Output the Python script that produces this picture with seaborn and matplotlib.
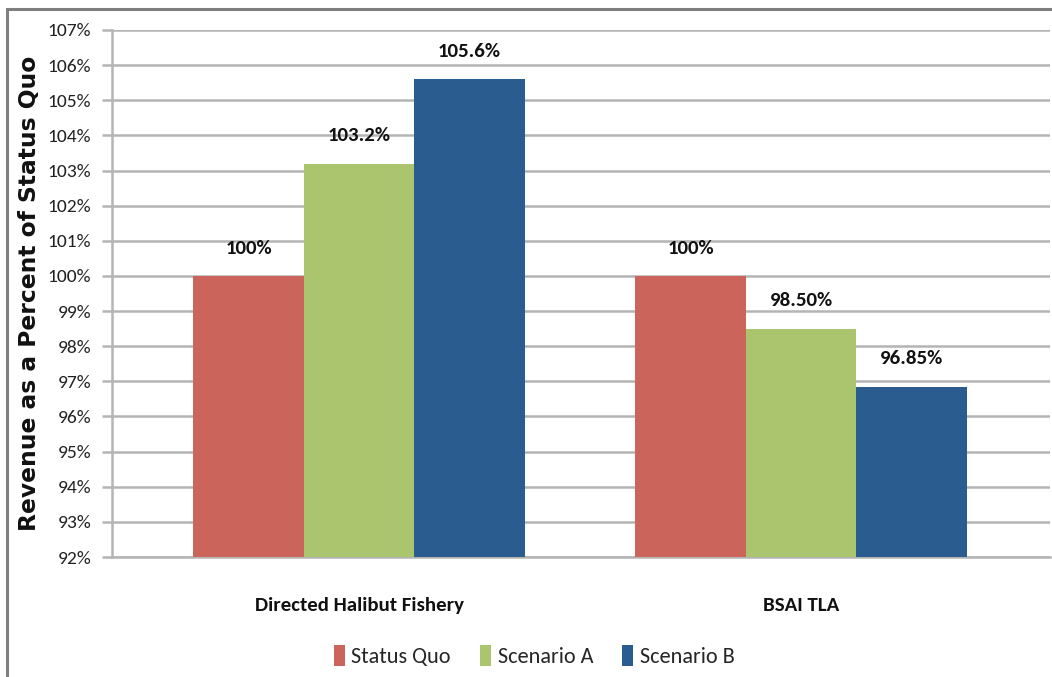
import matplotlib
matplotlib.use("Agg")
import matplotlib.pyplot as plt
import seaborn as sns
import pandas as pd
from matplotlib.patches import Rectangle
from matplotlib import font_manager

categories = ["Directed Halibut Fishery", "BSAI TLA"]
series = ["Status Quo", "Scenario A", "Scenario B"]
status_quo = [100.0, 100.0]
scenario_a = [103.2, 98.5]
scenario_b = [105.6, 96.85]
value_labels = [["100%", "100%"], ["103.2%", "98.50%"], ["105.6%", "96.85%"]]
y_ticks = list(range(92, 108))
colors = ["#CB645B", "#ABC46E", "#2A5C8F"]

names = {f.name for f in font_manager.fontManager.ttflist}
narrow = "DejaVu Sans"
for cand in ["Carlito", "Liberation Sans Narrow", "Archivo Narrow", "PT Sans Narrow",
             "Roboto Condensed", "Open Sans Condensed", "Asap Condensed"]:
    if cand in names:
        narrow = cand
        break

sns.set_theme(style="white")
plt.rcParams["font.family"] = [narrow, "DejaVu Sans"]

rows = []
for s, vals in zip(series, [status_quo, scenario_a, scenario_b]):
    for c, v in zip(categories, vals):
        rows.append({"category": c, "series": s, "value": v})
df = pd.DataFrame(rows)

fig = plt.figure(figsize=(10.52, 6.77), dpi=100)
ax = fig.add_axes([112 / 1052, 1 - 557 / 677, (1050 - 112) / 1052, (557 - 30) / 677])

sns.barplot(data=df, x="category", y="value", hue="series", order=categories,
            hue_order=series, palette=colors, width=0.75, saturation=1,
            edgecolor="none", linewidth=0, ax=ax, legend=False, zorder=3)

ax.set_ylim(92, 107)
ax.set_xlim(-0.559, 1.563)
ax.set_yticks(y_ticks)
ax.set_yticklabels([f"{t}%" for t in y_ticks], fontsize=14, color="#222222")
ax.yaxis.grid(True, color="#B4B4B4", linewidth=1.8, zorder=0)
ax.tick_params(axis="y", length=7, width=1.8, color="#B4B4B4", pad=8, left=True)
ax.tick_params(axis="x", length=0, pad=29)
for lbl in ax.get_xticklabels():
    lbl.set_fontsize(15)
    lbl.set_fontweight("bold")
    lbl.set_color("#111111")
ax.set_xlabel("")
ax.set_ylabel("Revenue as a Percent of Status Quo", fontsize=16.8, fontweight="bold",
              family="DejaVu Sans", labelpad=5, color="#111111")

for side in ["top", "right"]:
    ax.spines[side].set_visible(False)
for side in ["left", "bottom"]:
    ax.spines[side].set_color("#B4B4B4")
    ax.spines[side].set_linewidth(1.8)

for cont, labs in zip(ax.containers, value_labels):
    for patch, lab in zip(cont.patches, labs):
        x = patch.get_x() + patch.get_width() / 2
        y = patch.get_height()
        ax.annotate(lab, (x, y), xytext=(0, 20), textcoords="offset points",
                    ha="center", va="center", fontsize=15, fontweight="bold",
                    color="#111111")

handles = [Rectangle((0, 0), 1, 1, facecolor=c, edgecolor="none") for c in colors]
fig.legend(handles, series, loc="center", bbox_to_anchor=(534 / 1052, 1 - 656 / 677),
           ncol=3, frameon=False, fontsize=16, handlelength=0.5, handleheight=1.1,
           handletextpad=0.3, columnspacing=1.3)

border = Rectangle((7 / 1052, -0.05), 1.2, 1 - 9 / 677 + 0.05, transform=fig.transFigure,
                   fill=False, edgecolor="#7F7F7F", linewidth=2.2, zorder=10)
fig.patches.append(border)

fig.savefig("out.png", dpi=100)
